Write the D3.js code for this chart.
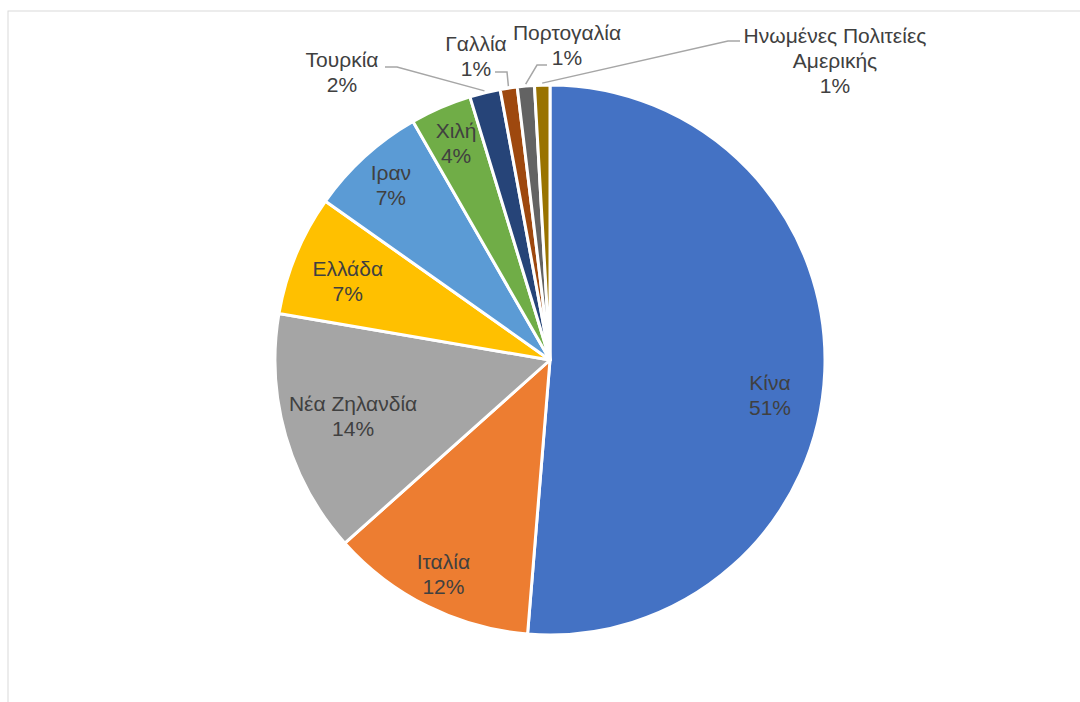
<!DOCTYPE html>
<html><head><meta charset="utf-8">
<script src="https://cdn.jsdelivr.net/npm/d3@7"></script>
<style>html,body{margin:0;padding:0;background:#fff;}svg{display:block;}</style>
</head><body>
<svg id="chart" width="1080" height="702"></svg>
<script>
const categories = ["Κίνα","Ιταλία","Νέα Ζηλανδία","Ελλάδα","Ιραν","Χιλή","Τουρκία","Γαλλία","Πορτογαλία","Ηνωμένες Πολιτείες Αμερικής"];
const values = [51.3, 12.1, 14.3, 7.1, 6.9, 3.6, 1.8, 1.0, 1.0, 0.9];
const colors = ["#4472C4","#ED7D31","#A5A5A5","#FFC000","#5B9BD5","#70AD47","#264478","#9E480E","#636363","#997300"];

// layout config (label placement)
const labelRadiusFactor = [0.81, 0.87, 0.745, 0.79, 0.86, 0.86];
const labelAngleOffsetDeg = [6.7, 0, 0, -1.1, 0, 0];
const outsideLabels = {
  6: {x: 342, y: 60, lines: ["Τουρκία"], lx: 385, ly: 67, elbow: 397},
  7: {x: 476, y: 44, lines: ["Γαλλία"], lx: 495, ly: 72, elbow: 507},
  8: {x: 567, y: 33, lines: ["Πορτογαλία"], lx: 547, ly: 65, elbow: 537},
  9: {x: 835, y: 36, lines: ["Ηνωμένες Πολιτείες","Αμερικής"], lx: 740, ly: 41, elbow: 728}
};

const svg = d3.select("#chart");
svg.append("rect").attr("x", 8).attr("y", 11).attr("width", 1100).attr("height", 720)
  .attr("fill", "none").attr("stroke", "#d9d9d9").attr("stroke-width", 1);

const cx = 550, cy = 360, R = 275;
const g = svg.append("g").attr("transform", `translate(${cx},${cy})`);
const pie = d3.pie().sort(null).value(d => d)(values);
const arc = d3.arc().innerRadius(0).outerRadius(R);
const total = d3.sum(values);
const fmt = v => Math.round(v / total * 100) + "%";

g.selectAll("path.slice").data(pie).join("path")
  .attr("class", "slice")
  .attr("d", arc)
  .attr("fill", (d, i) => colors[i])
  .attr("stroke", "#fff").attr("stroke-width", 3).attr("stroke-linejoin", "round");

const fontSize = 21, lineH = 25;
const textColor = "#404040";

pie.forEach((d, i) => {
  if (i < labelRadiusFactor.length) {
    const r = R * labelRadiusFactor[i];
    const a = (d.startAngle + d.endAngle) / 2 + labelAngleOffsetDeg[i] * Math.PI / 180;
    const x = r * Math.sin(a), y = -r * Math.cos(a);
    const t = g.append("text").attr("text-anchor", "middle")
      .attr("font-family", "Liberation Sans, Arial, sans-serif")
      .attr("font-size", fontSize).attr("fill", textColor);
    const lines = [categories[i], fmt(values[i])];
    lines.forEach((ln, k) => {
      t.append("tspan").attr("x", x).attr("y", y + (k - (lines.length - 1) / 2) * lineH)
        .attr("dy", "0.35em").text(ln);
    });
  } else {
    const o = outsideLabels[i];
    const a = (d.startAngle + d.endAngle) / 2;
    const px = cx + (R + 2) * Math.sin(a), py = cy - (R + 2) * Math.cos(a);
    svg.append("polyline")
      .attr("points", `${o.lx},${o.ly} ${o.elbow},${o.ly} ${px},${py}`)
      .attr("fill", "none").attr("stroke", "#a6a6a6").attr("stroke-width", 1.5);
    const lines = o.lines.concat([fmt(values[i])]);
    const t = svg.append("text").attr("text-anchor", "middle")
      .attr("font-family", "Liberation Sans, Arial, sans-serif")
      .attr("font-size", fontSize).attr("fill", textColor);
    lines.forEach((ln, k) => {
      t.append("tspan").attr("x", o.x).attr("y", o.y + k * lineH).attr("dy", "0.35em").text(ln);
    });
  }
});
</script>
</body></html>
